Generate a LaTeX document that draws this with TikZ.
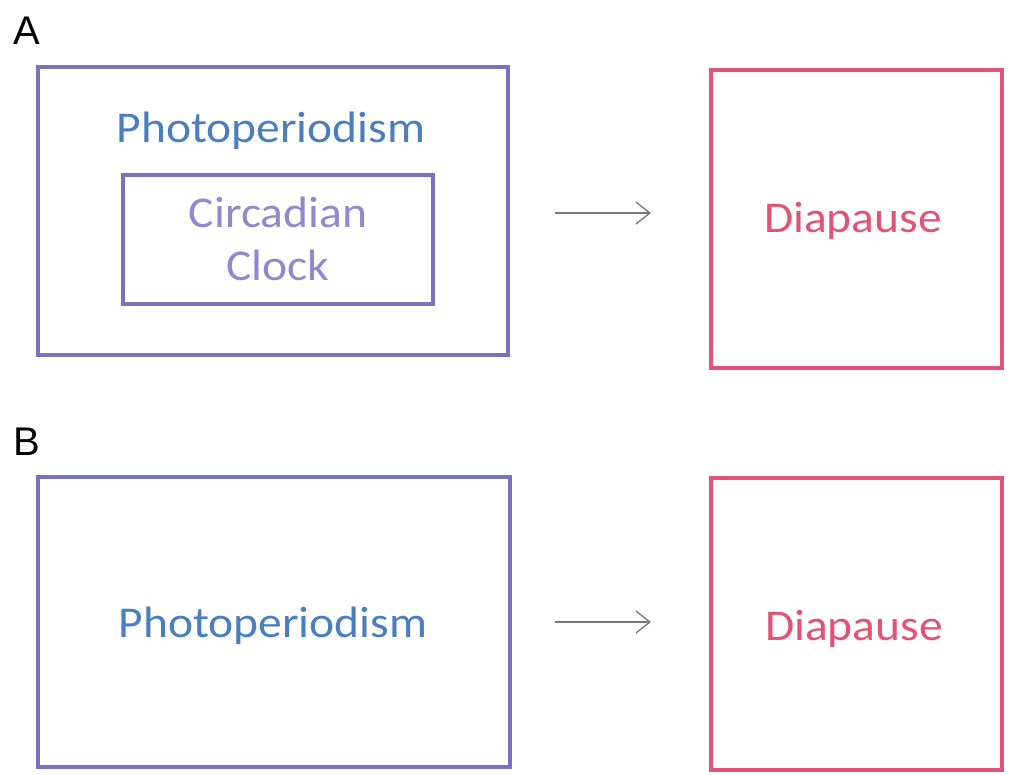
\documentclass[tikz,border=0pt]{standalone}
\usepackage{fontspec}
\usetikzlibrary{arrows.meta}
\setmainfont{Carlito}
\newfontfamily\labfont{Liberation Sans}
\definecolor{boxpurple}{RGB}{122,112,196}
\definecolor{diapink}{RGB}{226,84,118}
\definecolor{photoblue}{RGB}{74,126,190}
\definecolor{clockpurple}{RGB}{146,136,206}
\definecolor{arrowgray}{RGB}{120,120,120}
\newcommand{\wide}[1]{\scalebox{1.08}[1]{#1}}
\begin{document}
\begin{tikzpicture}[x=1pt,y=-1pt,
  purplebox/.style={draw=boxpurple,line width=3.5pt,rectangle,inner sep=0pt},
  pinkbox/.style={draw=diapink,line width=3.5pt,rectangle,inner sep=0pt},
  bigtext/.style={font=\fontsize{44}{52}\selectfont,anchor=base,inner sep=0pt},
  panel/.style={font=\labfont\fontsize{40}{48}\selectfont,anchor=base west,inner sep=0pt},
  conn/.style={draw=arrowgray,line width=1.3pt,-{Straight Barb[length=14pt,width=22pt,line width=1.3pt]}}]
\useasboundingbox (0,0) rectangle (1009,774);
% Panel A
\node[panel] (labA) at (13,44) {A};
\node[purplebox,minimum width=470pt,minimum height=288pt] (photoA) at (273,211) {};
\node[bigtext,text=photoblue] (photoAtext) at (271,142) {\wide{Photoperiodism}};
\node[purplebox,minimum width=310pt,minimum height=129pt] (clock) at (278,239.5) {};
\node[bigtext,text=clockpurple] (circ) at (278,227) {\wide{Circadian}};
\node[bigtext,text=clockpurple] (clk) at (278,280) {\wide{Clock}};
\node[pinkbox,minimum width=291pt,minimum height=298pt] (diaA) at (856.5,219) {};
\node[bigtext,text=diapink] (diaAtext) at (853,232) {\wide{Diapause}};
\coordinate (a1) at (555,213);
\coordinate (a2) at (651,213);
\draw[conn] (a1) -- (a2);
% Panel B
\node[panel] (labB) at (13,455) {B};
\node[purplebox,minimum width=472pt,minimum height=290pt] (photoB) at (274,622) {};
\node[bigtext,text=photoblue] (photoBtext) at (273,637) {\wide{Photoperiodism}};
\node[pinkbox,minimum width=291pt,minimum height=292pt] (diaB) at (856.5,624) {};
\node[bigtext,text=diapink] (diaBtext) at (854,640) {\wide{Diapause}};
\coordinate (b1) at (555,622);
\coordinate (b2) at (651,622);
\draw[conn] (b1) -- (b2);
\end{tikzpicture}
\end{document}
